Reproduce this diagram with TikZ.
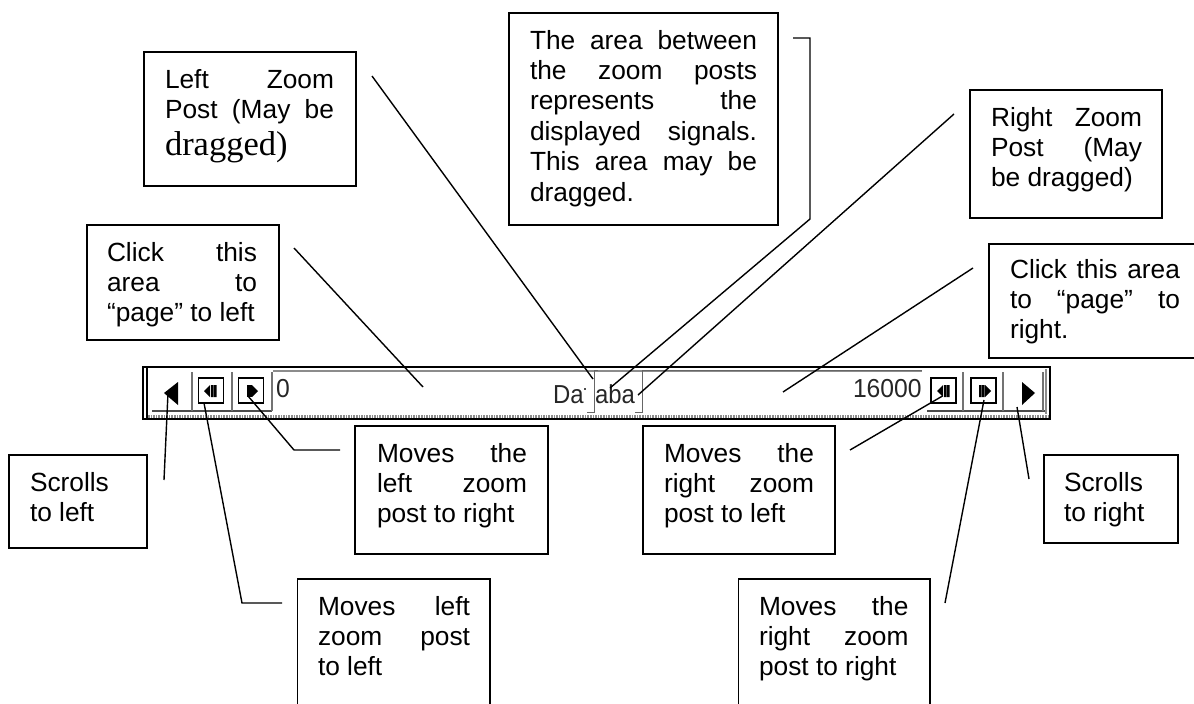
\documentclass[tikz,border=0pt]{standalone}
\usepackage{fontspec}
\setmainfont{Liberation Sans}
\newfontfamily\tnr{Liberation Serif}
\newcommand{\jl}[1]{\hbox to \linewidth{#1}}
\newcommand{\blk}[5]{% name, left, right, first baseline, lines
  \node[txtblock] (#1) at (#2,#4) {\parbox[t]{\dimexpr #3pt-#2pt\relax}{\setlength{\baselineskip}{30.4pt}\setlength{\lineskip}{0pt}\setlength{\parskip}{0pt}\setlength{\parindent}{0pt}#5}};}
\newcommand{\cbox}[5]{% name, x1,y1,x2,y2
  \node[calloutbox,minimum width=#4pt-#2pt,minimum height=#5pt-#3pt] (#1) at ({(#2+#4)/2},{(#3+#5)/2}) {};}
\tikzset{
  x=1pt,y=-1pt,
  calloutbox/.style={draw=black,line width=1.4pt,fill=white,inner sep=0pt,outer sep=0pt,rectangle},
  txtblock/.style={anchor=base west,inner sep=0pt,outer sep=0pt,font=\fontsize{26.3}{30.4}\selectfont},
  wire/.style={draw=black,line width=1.4pt,line join=miter},
  barlabel/.style={anchor=base west,inner sep=0pt,outer sep=0pt,text=black!85,font=\fontsize{26}{30}\selectfont},
  btn/.style={draw=black,line width=1.8pt,fill=white,inner sep=0pt,outer sep=0pt,minimum width=25pt,minimum height=25pt},
  sep/.style={draw=black!55,line width=2pt},
  edge/.style={draw=black!45,line width=1.6pt},
  post/.style={draw=black!60,line width=1pt},
}
\begin{document}
\begin{tikzpicture}
\useasboundingbox (0,0) rectangle (1194,704);
\fill[white] (0,0) rectangle (1194,704);
% toolbar
\node[draw=black,line width=1.6pt,fill=white,inner sep=0pt,outer sep=0pt,minimum width=907pt,minimum height=52pt] (bar) at (596.5,393) {};
\draw[black,line width=1.2pt] (147,368) -- (147,418);
\draw[edge,densely dotted,line width=3pt] (148,416) -- (1048,416);
\draw[edge] (273,371) -- (922,371);
\draw[edge] (1046,369) -- (1046,414);
\draw[draw=black!70,line width=2pt] (152,411) -- (272,411);
\draw[draw=black!70,line width=2pt] (927,411) -- (1045,411);
\foreach \sx in {192,232,272,963,1003,1043} \draw[sep] (\sx,372) -- (\sx,411);
\node[btn] (b1) at (211,390.5) {};
\node[btn] (b2) at (251,390.5) {};
\node[btn] (b3) at (943.5,390.5) {};
\node[btn] (b4) at (983.5,390.5) {};
% arrows and glyphs
\fill[black] (164,393) -- (178,382) -- (178,405) -- cycle;
\fill[black] (1035,393) -- (1022,382) -- (1022,405) -- cycle;
\fill[black] (204,391) -- (210,385) -- (210,397) -- cycle;
\fill[black] (211,385) rectangle (213.5,397) (214,385) rectangle (216.5,397);
\fill[black] (258,391) -- (252,385) -- (252,397) -- cycle;
\fill[black] (247,385) rectangle (251.5,397);
\fill[black] (937,391) -- (943,385) -- (943,397) -- cycle;
\fill[black] (944,385) rectangle (946.5,397) (947,385) rectangle (949.5,397);
\fill[black] (991,391) -- (985,385) -- (985,397) -- cycle;
\fill[black] (979,385) rectangle (981.5,397) (982,385) rectangle (984.5,397);
% bar labels
\node[barlabel] (n0) at (276,397) {\scalebox{0.95}[1]{0}};
\node[barlabel] (n16) at (853,397) {\scalebox{0.95}[1]{16000}};
\node[barlabel] (da) at (553,403) {\scalebox{0.92}[1]{Da}};
\node[barlabel] (aba) at (595,403) {\scalebox{0.92}[1]{aba}};
\fill[black!70] (584,388) rectangle (586,390);
% zoom posts
\draw[post] (598,370) -- (594,370) -- (594,412) -- (587,412);
\draw[post] (922,370) -- (642,370) -- (642,412) -- (635,412);
% callout boxes
\cbox{lz}{144}{52}{356}{186}
\blk{lzt}{165}{334}{88}{\jl{Left\hfill Zoom}\jl{Post\hfill (May\hfill be}\vskip 7pt\jl{\fontsize{34.5}{36}\selectfont\tnr dragged)\hfill}}
\cbox{mid}{509}{13}{778}{225}
\blk{midt}{530}{757}{49}{\jl{The\hfill area\hfill between}\jl{the\hfill zoom\hfill posts}\jl{represents\hfill the}\jl{displayed\hfill signals.}\jl{This\hfill area\hfill may\hfill be}\jl{dragged.\hfill}}
\cbox{rz}{970}{90}{1162}{218}
\blk{rzt}{991}{1142}{126}{\jl{Right\hfill Zoom}\jl{Post\hfill (May}\jl{be dragged)\hfill}}
\cbox{cl}{87}{225}{279}{340}
\blk{clt}{107}{257}{261}{\jl{Click\hfill this}\jl{area\hfill to}\jl{“page” to left\hfill}}
\cbox{cr}{989}{244}{1210}{358}
\blk{crt}{1010}{1180}{278}{\jl{Click\hfill this\hfill area}\jl{to\hfill “page”\hfill to}\jl{right.\hfill}}
\cbox{sl}{9}{455}{147}{548}
\blk{slt}{30}{130}{491}{\jl{Scrolls\hfill}\jl{to left\hfill}}
\cbox{mlr}{355}{426}{548}{554}
\blk{mlrt}{377}{527}{462}{\jl{Moves\hfill the}\jl{left\hfill zoom}\jl{post to right\hfill}}
\cbox{mrl}{643}{426}{835}{554}
\blk{mrlt}{664}{814}{462}{\jl{Moves\hfill the}\jl{right\hfill zoom}\jl{post to left\hfill}}
\cbox{sr}{1044}{455}{1178}{543}
\blk{srt}{1064}{1170}{491}{\jl{Scrolls\hfill}\jl{to right\hfill}}
\cbox{mll}{297.5}{579}{490}{720}
\blk{mllt}{318}{470}{615}{\jl{Moves\hfill left}\jl{zoom\hfill post}\jl{to left\hfill}}
\cbox{mrr}{738.5}{579}{930}{720}
\blk{mrrt}{759}{908.5}{615}{\jl{Moves\hfill the}\jl{right\hfill zoom}\jl{post to right\hfill}}
% connector ends
\coordinate (a1) at (372,76);   \coordinate (a2) at (593,379);
\coordinate (c1) at (294,248);  \coordinate (c2) at (423,387);
\coordinate (m1) at (793,38);   \coordinate (m2) at (810,38);
\coordinate (m3) at (810,219);  \coordinate (m4) at (610,388);
\coordinate (r1) at (954,114);  \coordinate (r2) at (638,395);
\coordinate (k1) at (973,268);  \coordinate (k2) at (783,392);
\coordinate (s1) at (164,480);  \coordinate (s2) at (168,393);
\coordinate (p1) at (340,450);  \coordinate (p2) at (294,450); \coordinate (p3) at (248,396);
\coordinate (q1) at (282,603);  \coordinate (q2) at (242,603); \coordinate (q3) at (204,403);
\coordinate (t1) at (850,450);  \coordinate (t2) at (942.5,396);
\coordinate (u1) at (945,603);  \coordinate (u2) at (984,400);
\coordinate (v1) at (1029,479); \coordinate (v2) at (1017,407);
% connectors
\draw[wire] (a1) -- (a2);
\draw[wire] (c1) -- (c2);
\draw[wire] (m1) -- (m2) -- (m3) -- (m4);
\draw[wire] (r1) -- (r2);
\draw[wire] (k1) -- (k2);
\draw[wire] (s1) -- (s2);
\draw[wire] (p1) -- (p2) -- (p3);
\draw[wire] (q1) -- (q2) -- (q3);
\draw[wire] (t1) -- (t2);
\draw[wire] (u1) -- (u2);
\draw[wire] (v1) -- (v2);
\end{tikzpicture}
\end{document}
